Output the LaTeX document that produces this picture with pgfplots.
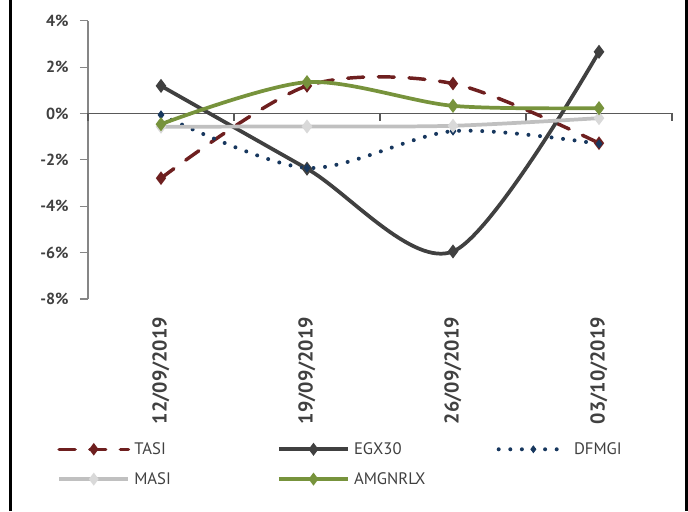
\documentclass[border=0pt]{standalone}
\usepackage{pgfplots}
\pgfplotsset{compat=1.18}
\usepackage{pgfplotstable}
\usepackage{fontspec}
\setmainfont{PT Sans}
\definecolor{tasi}{HTML}{6E1F1F}
\definecolor{egx}{HTML}{404040}
\definecolor{dfm}{HTML}{17375E}
\definecolor{masi}{HTML}{C0C0C0}
\definecolor{masim}{HTML}{D9D9D9}
\definecolor{amg}{HTML}{77933C}
\definecolor{axgray}{HTML}{868686}
\definecolor{txt}{HTML}{404040}
\pgfplotstableread{
x TASI EGX30 DFMGI MASI AMGNRLX
0.5 -2.79 1.19 -0.06 -0.57 -0.46
1.5 1.19 -2.38 -2.35 -0.56 1.35
2.5 1.29 -5.95 -0.76 -0.53 0.33
3.5 -1.28 2.66 -1.31 -0.20 0.23
}\datatable
\begin{document}
\begin{tikzpicture}
\path[use as bounding box] (0,0) rectangle (516pt,383.25pt);
\draw[black,line width=2.25pt] (7.5pt,0) -- (7.5pt,383.25pt);
\draw[black,line width=2.25pt] (514.5pt,0) -- (514.5pt,383.25pt);
\begin{axis}[
  at={(66pt,159pt)}, anchor=south west,
  scale only axis, width=438pt, height=208.7pt,
  xmin=0, xmax=4, ymin=-8, ymax=4,
  clip=false,
  axis lines*=left,
  x axis line style={draw=none},
  y axis line style={draw=axgray, line width=0.9pt},
  xtick={0.5,1.5,2.5,3.5},
  xticklabels={12/09/2019,19/09/2019,26/09/2019,03/10/2019},
  xtick style={draw=none},
  xticklabel style={font=\fontsize{15}{18}\selectfont\bfseries, text=txt, rotate=90, anchor=east, xshift=-4pt},
  ytick={-8,-6,...,4},
  yticklabel={\pgfmathprintnumber{\tick}\%},
  yticklabel style={font=\fontsize{12}{14}\selectfont\bfseries, text=txt, xshift=-5pt},
  ytick style={draw=axgray, line width=0.9pt},
  tick align=outside, major tick length=6pt,
  /pgf/number format/assume math mode=true,
  legend columns=3,
  legend cell align=left,
  legend style={draw=none, fill=none, at={(axis description cs:-0.06,-0.495)}, anchor=north west,
    font=\fontsize{12.5}{15}\selectfont, text=txt,
    nodes={text width=97pt},
    /tikz/every odd column/.append style={column sep=1pt},
    /tikz/every even column/.append style={column sep=8pt},
    row sep=8pt},
  legend image code/.code={\draw[mark repeat=2,mark phase=2,#1,mark size=2.6pt] plot coordinates {(0pt,0pt) (26pt,0pt) (52pt,0pt)};},
]
\draw[color=black!65, line width=0.9pt] (axis cs:0,0) -- (axis cs:4,0);
\pgfplotsinvokeforeach{0,1,2,3,4}{\draw[color=black!65, line width=0.9pt] (axis cs:#1,0) -- ++(0pt,-6pt);}
\addplot[smooth, color=tasi, line width=2.6pt, line cap=round, dash pattern=on 12pt off 11pt, mark=diamond*, mark size=3pt, mark options={solid, fill=tasi}] table[x=x,y=TASI] {\datatable};
\addlegendentry{TASI}
\addplot[smooth, color=egx, line width=2.8pt, mark=diamond*, mark size=3pt, mark options={fill=egx}] table[x=x,y=EGX30] {\datatable};
\addlegendentry{EGX30}
\addplot[smooth, color=dfm, line width=3pt, line cap=round, dash pattern=on 0pt off 8.7pt, mark=diamond*, mark size=3pt, mark options={solid, fill=dfm, line width=0.5pt}] table[x=x,y=DFMGI] {\datatable};
\addlegendentry{DFMGI}
\addplot[smooth, color=masi, line width=2.8pt, mark=diamond*, mark size=3pt, mark options={fill=masim, draw=masim}] table[x=x,y=MASI] {\datatable};
\addlegendentry{MASI}
\addplot[smooth, color=amg, line width=2.8pt, mark=diamond*, mark size=3pt, mark options={fill=amg}] table[x=x,y=AMGNRLX] {\datatable};
\addlegendentry{AMGNRLX}
\end{axis}
\end{tikzpicture}
\end{document}
